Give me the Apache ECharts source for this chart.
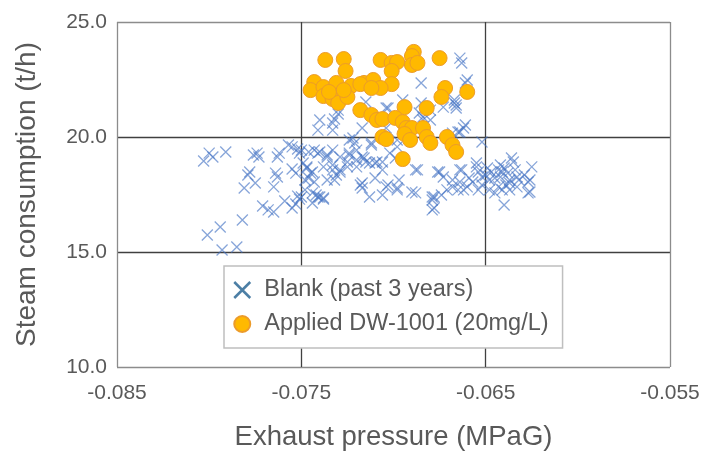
<!DOCTYPE html>
<html>
<head>
<meta charset="utf-8">
<script src="https://cdn.jsdelivr.net/npm/echarts@6/dist/echarts.min.js"></script>
<style>
  html, body { margin: 0; padding: 0; background: #fff; }
  #main { width: 717px; height: 452px; }
</style>
</head>
<body>
<div id="main"></div>
<script>
// axis ticks
var xTicks = [-0.085, -0.075, -0.065, -0.055];
var yTicks = [10, 15, 20, 25];

// Blank (past 3 years): [exhaust pressure, steam consumption]
var blankData = [
  [-0.0803, 18.96], [-0.0800, 19.30], [-0.0798, 19.13], [-0.0791, 19.35], [-0.0776, 19.22],
  [-0.0774, 19.30], [-0.0773, 19.13], [-0.0763, 19.13], [-0.0762, 19.30], [-0.0757, 19.65],
  [-0.0755, 19.57], [-0.0752, 19.48], [-0.0751, 19.30], [-0.0778, 18.48], [-0.0779, 18.35],
  [-0.0775, 18.00], [-0.0781, 17.78], [-0.0764, 18.43], [-0.0763, 18.26], [-0.0765, 17.83],
  [-0.0755, 18.61], [-0.0753, 18.43], [-0.0749, 18.87], [-0.0747, 18.65], [-0.0745, 18.43],
  [-0.0746, 18.22], [-0.0752, 17.43], [-0.0751, 17.30], [-0.0759, 17.22], [-0.0771, 17.00],
  [-0.0768, 16.83], [-0.0765, 16.74], [-0.0755, 16.91], [-0.0753, 17.09], [-0.0782, 16.39],
  [-0.0794, 16.09], [-0.0801, 15.74], [-0.0793, 15.09], [-0.0785, 15.22], [-0.0742, 17.48],
  [-0.0740, 17.39], [-0.0738, 17.30], [-0.0744, 17.13], [-0.0743, 18.04], [-0.0748, 17.70],
  [-0.0741, 20.30], [-0.0733, 20.30], [-0.0733, 20.61], [-0.0740, 20.74], [-0.0732, 20.78],
  [-0.0730, 21.00], [-0.0746, 19.35], [-0.0740, 19.35], [-0.0736, 19.13], [-0.0733, 18.78],
  [-0.0731, 18.35], [-0.0732, 18.13], [-0.0729, 18.57], [-0.0725, 18.91], [-0.0724, 19.30],
  [-0.0721, 19.74], [-0.0720, 19.00], [-0.0716, 19.09], [-0.0713, 18.87], [-0.0709, 18.91],
  [-0.0717, 18.00], [-0.0717, 17.78], [-0.0713, 17.39], [-0.0724, 19.87], [-0.0722, 19.96],
  [-0.0712, 19.74], [-0.0717, 20.39], [-0.0715, 21.52], [-0.0703, 21.26], [-0.0704, 20.39],
  [-0.0698, 19.87], [-0.0698, 19.57], [-0.0750, 19.43], [-0.0743, 19.43], [-0.0741, 19.30],
  [-0.0736, 19.22], [-0.0733, 19.43], [-0.0729, 19.13], [-0.0724, 19.22], [-0.0720, 19.43],
  [-0.0717, 19.13], [-0.0712, 19.65], [-0.0715, 18.91], [-0.0710, 18.87], [-0.0706, 18.91],
  [-0.0702, 19.30], [-0.0699, 19.09], [-0.0747, 18.70], [-0.0744, 18.48], [-0.0738, 18.70],
  [-0.0733, 18.57], [-0.0729, 18.48], [-0.0725, 18.70], [-0.0720, 18.70], [-0.0710, 18.22],
  [-0.0706, 18.57], [-0.0718, 17.91], [-0.0706, 17.48], [-0.0703, 17.91], [-0.0698, 17.78],
  [-0.0697, 18.13], [-0.0688, 18.57], [-0.0748, 18.13], [-0.0744, 17.57], [-0.0741, 17.39],
  [-0.0738, 17.35], [-0.0750, 17.39], [-0.0736, 18.13],
  [-0.0667, 21.48], [-0.0666, 21.26], [-0.0673, 21.30], [-0.0685, 21.48], [-0.0684, 20.87],
  [-0.0680, 20.74], [-0.0661, 20.52], [-0.0662, 20.39], [-0.0665, 20.22], [-0.0668, 20.17],
  [-0.0652, 19.78], [-0.0687, 18.57], [-0.0675, 18.48], [-0.0673, 18.26], [-0.0664, 18.57],
  [-0.0668, 18.13], [-0.0664, 18.04], [-0.0668, 17.83], [-0.0671, 17.70], [-0.0674, 17.48],
  [-0.0678, 17.39], [-0.0679, 17.26], [-0.0678, 16.91], [-0.0679, 16.83], [-0.0679, 17.39],
  [-0.0655, 18.70], [-0.0654, 18.48], [-0.0652, 18.26], [-0.0657, 18.04], [-0.0660, 17.83],
  [-0.0662, 17.70], [-0.0652, 17.91], [-0.0648, 18.13], [-0.0647, 18.48], [-0.0643, 18.57],
  [-0.0642, 18.26], [-0.0640, 18.65], [-0.0638, 18.43], [-0.0637, 18.13], [-0.0635, 18.91],
  [-0.0637, 18.00], [-0.0633, 18.26], [-0.0643, 17.83], [-0.0641, 17.70], [-0.0645, 17.57],
  [-0.0648, 17.70], [-0.0637, 17.70], [-0.0633, 17.83], [-0.0626, 18.13], [-0.0625, 18.70],
  [-0.0627, 17.57], [-0.0640, 17.04], [-0.0654, 17.70], [-0.0663, 18.57], [-0.0688, 17.57],
  [-0.0636, 19.09], [-0.0655, 18.87], [-0.0676, 18.48], [-0.0690, 17.61], [-0.0698, 17.70],
  [-0.0704, 17.83], [-0.0665, 17.70], [-0.0627, 18.04], [-0.0626, 17.61],
  [-0.0664, 23.43], [-0.0663, 23.22], [-0.0660, 22.48], [-0.0661, 22.35], [-0.0685, 22.35],
  [-0.0667, 21.61], [-0.0666, 21.39], [-0.0695, 21.61], [-0.0704, 21.26], [-0.0686, 21.04],
  [-0.0684, 20.74], [-0.0664, 20.22], [-0.0680, 21.17], [-0.0730, 21.17],
  [-0.0650, 18.35], [-0.0645, 18.22], [-0.0641, 18.48], [-0.0639, 17.91], [-0.0634, 18.57],
  [-0.0632, 18.13], [-0.0649, 18.65], [-0.0642, 18.78], [-0.0659, 18.22], [-0.0629, 18.35]
];

// Applied DW-1001 (20mg/L)
var appliedData = [
  [-0.0737, 23.35], [-0.0727, 23.39], [-0.0726, 22.87], [-0.0743, 22.39], [-0.0745, 22.04],
  [-0.0738, 22.17], [-0.0738, 21.78], [-0.0731, 22.35], [-0.0733, 21.65], [-0.0730, 21.48],
  [-0.0723, 22.22], [-0.0716, 22.35], [-0.0711, 22.48], [-0.0718, 21.17], [-0.0712, 20.96],
  [-0.0709, 20.74], [-0.0707, 23.35], [-0.0701, 23.22], [-0.0698, 23.26], [-0.0689, 23.70],
  [-0.0690, 23.52], [-0.0690, 23.13], [-0.0687, 23.22], [-0.0675, 23.43], [-0.0701, 22.87],
  [-0.0701, 22.30], [-0.0707, 22.13], [-0.0672, 22.13], [-0.0674, 21.74], [-0.0660, 21.96],
  [-0.0694, 21.30], [-0.0682, 21.26], [-0.0706, 20.78], [-0.0699, 20.83], [-0.0695, 20.65],
  [-0.0693, 20.39], [-0.0690, 20.39], [-0.0684, 20.39], [-0.0682, 20.00], [-0.0680, 19.74],
  [-0.0671, 20.00], [-0.0668, 19.65], [-0.0666, 19.35], [-0.0706, 20.00], [-0.0704, 19.91],
  [-0.0694, 20.13], [-0.0691, 19.87], [-0.0695, 19.04], [-0.0725, 21.74], [-0.0718, 22.30],
  [-0.0735, 21.96], [-0.0727, 22.04], [-0.0712, 22.13]
];

var crossPath = "path://M0,0L10,10M10,0L0,10";
var textColor = "#595959";
var fontName = "Liberation Sans";

var myChart = echarts.init(document.getElementById("main"));

var option = {
  animation: false,
  textStyle: { fontFamily: fontName },
  grid: { left: 117, right: 47, top: 22, bottom: 85, containLabel: false, outerBoundsMode: "none" },
  legend: {
    orient: "vertical",
    left: 224,
    top: 266,
    padding: [12, 14, 12, 9],
    itemGap: 10,
    itemWidth: 34,
    itemHeight: 16,
    backgroundColor: "#fff",
    borderColor: "#bfbfbf",
    borderWidth: 1.5,
    borderRadius: 0,
    textStyle: { color: textColor, fontSize: 23.5, lineHeight: 24, fontFamily: fontName },
    data: [
      {
        name: "Blank (past 3 years)",
        icon: crossPath,
        itemStyle: { color: "transparent", borderColor: "#1F5F8F", borderWidth: 2.5 }
      },
      { name: "Applied DW-1001 (20mg/L)", icon: "circle" }
    ]
  },
  xAxis: {
    type: "value",
    min: xTicks[0],
    max: xTicks[xTicks.length - 1],
    interval: 0.01,
    name: "Exhaust pressure (MPaG)",
    nameLocation: "middle",
    nameGap: 56,
    nameTextStyle: { color: textColor, fontSize: 27.5, fontFamily: fontName },
    axisLine: { show: false },
    axisTick: { show: false },
    axisLabel: {
      color: textColor, fontSize: 21, margin: 16, fontFamily: fontName,
      formatter: function (v) { return v.toFixed(3); }
    },
    splitLine: {
      show: true,
      lineStyle: { color: ["#8c8c8c", "#404040", "#404040", "#8c8c8c"], width: 1.3 }
    }
  },
  yAxis: {
    type: "value",
    min: yTicks[0],
    max: yTicks[yTicks.length - 1],
    interval: 5,
    name: "Steam consumption (t/h)",
    nameLocation: "middle",
    nameGap: 76,
    nameTextStyle: { color: textColor, fontSize: 28, fontFamily: fontName },
    axisLine: { show: false },
    axisTick: { show: false },
    axisLabel: {
      color: textColor, fontSize: 21, margin: 10, fontFamily: fontName,
      formatter: function (v) { return v.toFixed(1); }
    },
    splitLine: {
      show: true,
      lineStyle: { color: ["#8c8c8c", "#404040", "#404040", "#8c8c8c"], width: 1.3 }
    }
  },
  series: [
    {
      name: "Blank (past 3 years)",
      type: "scatter",
      symbol: crossPath,
      symbolSize: 11,
      itemStyle: { color: "transparent", borderColor: "rgba(68,114,196,0.8)", borderWidth: 1.3 },
      data: blankData
    },
    {
      name: "Applied DW-1001 (20mg/L)",
      type: "scatter",
      symbol: "circle",
      symbolSize: 15,
      itemStyle: { color: "#FFB900", borderColor: "#EC9B2A", borderWidth: 1, opacity: 1 },
      data: appliedData
    }
  ]
};

myChart.setOption(option);
</script>
</body>
</html>
